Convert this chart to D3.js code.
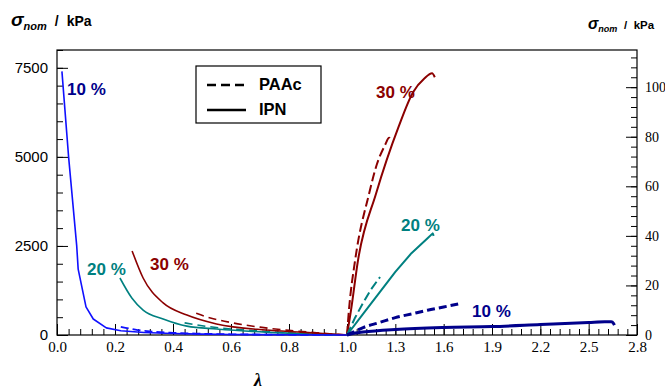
<!DOCTYPE html>
<html><head><meta charset="utf-8">
<script src="https://cdn.jsdelivr.net/npm/d3@7/dist/d3.min.js"></script>
<style>body{margin:0;background:#fff}svg{display:block}</style>
</head><body>
<svg id="c" width="665" height="389"></svg>
<script>
// ---- data ----
// compression (lambda < 1, left axis kPa)
const ipn10C  = [[0.017,7400],[0.04,5000],[0.068,2500],[0.073,1850],[0.1,790],[0.125,450],[0.17,200],[0.22,120],[0.3,70],[0.4,40],[0.5,25],[0.6,15],[0.8,5],[1.0,0]];
const paac10C = [[0.22,230],[0.27,150],[0.32,100],[0.4,60],[0.5,35],[0.6,20],[0.8,8],[1.0,0]];
const ipn20C  = [[0.217,1600],[0.258,1040],[0.297,700],[0.366,450],[0.448,250],[0.55,170],[0.72,80],[0.85,35],[1.0,0]];
const paac20C = [[0.44,340],[0.5,260],[0.6,170],[0.7,110],[0.8,60],[0.9,25],[1.0,0]];
const ipn30C  = [[0.259,2360],[0.297,1600],[0.366,900],[0.448,560],[0.55,310],[0.72,140],[0.84,80],[0.93,35],[1.0,0]];
const paac30C = [[0.48,610],[0.52,500],[0.6,350],[0.7,220],[0.8,130],[0.9,60],[1.0,0]];
// tension (lambda > 1, right axis kPa)
const ipn30T  = [[1.0,0],[1.025,10],[1.068,30],[1.18,57],[1.32,84],[1.41,98],[1.48,103.5],[1.528,105.6],[1.545,104]];
const paac30T = [[1.0,0],[1.012,10],[1.05,30],[1.137,57],[1.186,69],[1.235,76.5],[1.262,79.6],[1.272,78.8]];
const ipn20T  = [[1.0,0],[1.1,8.5],[1.2,17],[1.3,25.5],[1.4,33],[1.5,39],[1.532,41],[1.538,40]];
const paac20T = [[1.0,0],[1.05,7],[1.1,13],[1.15,18.5],[1.205,23.4]];
const ipn10T  = [[1.0,0],[1.05,0.8],[1.1,1.2],[1.3,2.2],[1.6,3.0],[1.9,3.4],[2.2,4.2],[2.5,5.0],[2.6,5.3],[2.64,5.3],[2.655,4.6],[2.66,4]];
const paac10T = [[1.0,0],[1.05,1.5],[1.1,3],[1.2,5],[1.3,7],[1.4,8.5],[1.5,10],[1.6,11.3],[1.69,12.5]];
// ticks
const xTicksL = [0,0.2,0.4,0.6,0.8];
const xTicksR = [1.0,1.3,1.6,1.9,2.2,2.5,2.8];
const yTicksL = [0,2500,5000,7500];
const yTicksR = [0,20,40,60,80,100];

const svg = d3.select("#c");
const X0=57, X1=347, X2=637, Y0=335, Y1=50;
const xL = d3.scaleLinear([0,1],[X0,X1]);
const xR = d3.scaleLinear([1,2.8],[X1,X2]);
const yL = d3.scaleLinear([0,8000],[Y0,Y1]);
const yR = d3.scaleLinear([0,115],[Y0,Y1]);

const NAVY="#00008b", BLUE="#1010ff", TEAL="#008080", RED="#8b0000";
const serif="'Liberation Serif','DejaVu Serif',serif", sans="'Liberation Sans',Arial,sans-serif";

function range(a,b,s){const r=[];for(let v=a;v<=b+1e-9;v+=s)r.push(+v.toFixed(4));return r;}

function styleAxis(g,font,size){
  g.attr("font-family",null).attr("font-size",null);
  g.select(".domain").remove();
  g.selectAll("line").attr("stroke","#000").attr("stroke-width",1);
  g.selectAll("text").style("font-family",font).style("font-size",size+"px").attr("fill","#000");
}

// x minor
svg.append("g").attr("transform",`translate(0,${Y0})`)
  .call(d3.axisBottom(xL).tickValues(range(0,1,0.04)).tickSize(-6).tickFormat(""))
  .call(g=>styleAxis(g,serif,14));
svg.append("g").attr("transform",`translate(0,${Y0})`)
  .call(d3.axisBottom(xR).tickValues(range(1,2.8,0.06)).tickSize(-6).tickFormat(""))
  .call(g=>styleAxis(g,serif,14));
// x major
svg.append("g").attr("transform",`translate(0,${Y0})`)
  .call(d3.axisBottom(xL).tickValues(xTicksL).tickSize(-11).tickPadding(6).tickFormat(d3.format(".1f")))
  .call(g=>styleAxis(g,serif,15));
svg.append("g").attr("transform",`translate(0,${Y0})`)
  .call(d3.axisBottom(xR).tickValues(xTicksR).tickSize(-11).tickPadding(6).tickFormat(d3.format(".1f")))
  .call(g=>styleAxis(g,serif,15));
// left y
svg.append("g").attr("transform",`translate(${X0},0)`)
  .call(d3.axisLeft(yL).tickValues(range(0,8000,500)).tickSize(-6).tickFormat(""))
  .call(g=>styleAxis(g,sans,14));
svg.append("g").attr("transform",`translate(${X0},0)`)
  .call(d3.axisLeft(yL).tickValues(yTicksL).tickSize(-11).tickPadding(9).tickFormat(d3.format("d")))
  .call(g=>styleAxis(g,sans,15));
// right y
svg.append("g").attr("transform",`translate(${X2},0)`)
  .call(d3.axisRight(yR).tickValues(range(0,112,4)).tickSize(-6).tickFormat(""))
  .call(g=>styleAxis(g,serif,13));
svg.append("g").attr("transform",`translate(${X2},0)`)
  .call(d3.axisRight(yR).tickValues(yTicksR).tickSize(-11).tickPadding(8).tickFormat(d3.format("d")))
  .call(g=>styleAxis(g,serif,14));

// frame
svg.append("rect").attr("x",X0).attr("y",Y1).attr("width",X2-X0).attr("height",Y0-Y1)
  .attr("fill","none").attr("stroke","#000").attr("stroke-width",1.2);

// curves
const lineC = d3.line().x(d=>xL(d[0])).y(d=>yL(d[1]));
const lineT = d3.line().x(d=>xR(d[0])).y(d=>yR(d[1]));
function draw(data,gen,color,w,dash,curve){
  svg.append("path").datum(data).attr("d",gen.curve(curve||d3.curveLinear))
    .attr("fill","none").attr("stroke",color).attr("stroke-width",w)
    .attr("stroke-dasharray",dash||null).attr("stroke-linejoin","round");
}
draw(paac10C,lineC,BLUE,1.8,"8,4",d3.curveMonotoneX);
draw(paac20C,lineC,TEAL,1.6,"8,5",d3.curveMonotoneX);
draw(paac30C,lineC,RED,1.6,"8,5",d3.curveMonotoneX);
draw(ipn20C,lineC,TEAL,1.6,null,d3.curveMonotoneX);
draw(ipn30C,lineC,RED,1.6,null,d3.curveMonotoneX);
draw(ipn10C,lineC,BLUE,1.6,null,d3.curveLinear);

draw(paac30T,lineT,RED,2,"9,4",d3.curveMonotoneX);
draw(ipn30T,lineT,RED,2,null,d3.curveMonotoneX);
draw(paac20T,lineT,TEAL,2,"9,4",d3.curveLinear);
draw(ipn20T,lineT,TEAL,2,null,d3.curveLinear);
draw(paac10T,lineT,NAVY,3,"8,4",d3.curveMonotoneX);
draw(ipn10T,lineT,NAVY,3,null,d3.curveMonotoneX);

// labels
function lab(x,y,t,c){svg.append("text").attr("x",x).attr("y",y).text(t)
  .style("font-family",sans).style("font-weight","bold").style("font-size","17px").attr("fill",c);}
lab(67,95,"10 %",NAVY);
lab(87,275,"20 %",TEAL);
lab(150,270,"30 %",RED);
lab(376,98,"30 %",RED);
lab(401,231,"20 %",TEAL);
lab(472,317,"10 %",NAVY);

// legend
const lg = svg.append("g");
lg.append("rect").attr("x",196).attr("y",66).attr("width",125).attr("height",57)
  .attr("fill","#fff").attr("stroke","#000").attr("stroke-width",1.2);
lg.append("line").attr("x1",207).attr("x2",246).attr("y1",85).attr("y2",85)
  .attr("stroke","#000").attr("stroke-width",2.5).attr("stroke-dasharray","9,5");
lg.append("line").attr("x1",207).attr("x2",246).attr("y1",110).attr("y2",110)
  .attr("stroke","#000").attr("stroke-width",2.5);
lg.append("text").attr("x",259).attr("y",90).text("PAAc")
  .style("font-family",sans).style("font-weight","bold").style("font-size","16.5px");
lg.append("text").attr("x",259).attr("y",115).text("IPN")
  .style("font-family",sans).style("font-weight","bold").style("font-size","16.5px");

// axis titles
function title(x,y,s){
  const t=svg.append("text").attr("x",x).attr("y",y)
    .style("font-family",sans).style("font-weight","bold").style("font-size",(14*s)+"px");
  t.append("tspan").text("σ").style("font-style","italic").style("font-size",(19*s)+"px");
  t.append("tspan").text("nom").style("font-style","italic").style("font-size",(11*s)+"px").attr("dy",4*s);
  t.append("tspan").text("/").attr("dx",8*s).attr("dy",-4*s);
  t.append("tspan").text("kPa").attr("dx",8*s);
}
title(11,26,1);
title(588,29,0.82);
svg.append("text").attr("x",258).attr("y",386).attr("text-anchor","middle").text("λ")
  .style("font-family",serif).style("font-weight","bold").style("font-style","italic").style("font-size","18px");
</script>
</body></html>
